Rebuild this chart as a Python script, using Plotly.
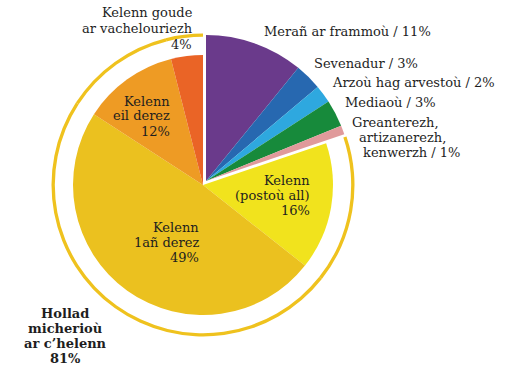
import plotly.graph_objects as go

W, H = 515, 383

# ---- data ----
categories = [
    "Merañ ar frammoù", "Sevenadur", "Arzoù hag arvestoù", "Mediaoù",
    "Greanterezh, artizanerezh, kenwerzh",
    "Kelenn (postoù all)", "Kelenn 1añ derez", "Kelenn eil derez",
    "Kelenn goude ar vachelouriezh",
]
values = [11, 3, 2, 3, 1, 16, 49, 12, 4]
is_teaching = [False, False, False, False, False, True, True, True, True]
colors = ["#6a3a8b", "#2768b0", "#2ea8df", "#178a3b", "#e09a9b",
          "#f1e31d", "#ebc11f", "#ee9b24", "#ea6426"]
ring_color = "#efc21e"
total_label = ["Hollad", "micherioù", "ar c’helenn", "81%"]

TRANSP = "rgba(0,0,0,0)"

def dom(cx, cy, r):
    return dict(x=[(cx - r) / W, (cx + r) / W],
                y=[(H - cy - r) / H, (H - cy + r) / H])

fig = go.Figure()

# non-teaching group (slightly pulled out)
fig.add_trace(go.Pie(
    labels=categories, values=values, sort=False, direction="clockwise", rotation=0,
    marker=dict(colors=[TRANSP if t else c for c, t in zip(colors, is_teaching)],
                line=dict(width=0)),
    textinfo="none", hoverinfo="label+value", domain=dom(206, 181, 146),
))
# teaching group
fig.add_trace(go.Pie(
    labels=categories, values=values, sort=False, direction="clockwise", rotation=0,
    marker=dict(colors=[c if t else TRANSP for c, t in zip(colors, is_teaching)],
                line=dict(width=0)),
    textinfo="none", hoverinfo="label+value", domain=dom(203, 185, 130),
))
# ring around teaching group
fig.add_trace(go.Pie(
    labels=categories, values=values, sort=False, direction="clockwise", rotation=0,
    marker=dict(colors=[ring_color if t else TRANSP for t in is_teaching],
                line=dict(width=0)),
    hole=0.978, textinfo="none", hoverinfo="skip", domain=dom(203, 185, 151.5),
))

FONT = "DejaVu Serif"
TXT = "#1e1e1e"

def line(text, x, y, anchor, bold=False, size=13):
    fig.add_annotation(
        text=f"<b>{text}</b>" if bold else text,
        x=x / W, y=1 - y / H, xref="paper", yref="paper",
        xanchor=anchor, yanchor="middle", showarrow=False,
        font=dict(family=FONT, size=size, color=TXT),
    )

pct = [f"{v}%" for v in values]

# outside labels
line(f"{categories[0]} / {pct[0]}", 262, 32, "left")
line(f"{categories[1]} / {pct[1]}", 312, 63, "left")
line(f"{categories[2]} / {pct[2]}", 330, 83, "left")
line(f"{categories[3]} / {pct[3]}", 343, 102, "left")
line("Greanterezh,", 350, 122, "left")
line("artizanerezh,", 357, 137, "left")
line(f"kenwerzh / {pct[4]}", 361, 152, "left")

line("Kelenn goude", 195, 12, "right")
line("ar vachelouriezh", 195, 28, "right")
line(pct[8], 194, 44, "right")

# inside labels
line("Kelenn", 172, 101, "right")
line("eil derez", 172, 116, "right")
line(pct[7], 172, 132, "right")

line("Kelenn", 312, 180, "right")
line("(postoù all)", 312, 195, "right")
line(pct[5], 312, 210, "right")

line("Kelenn", 201, 227, "right")
line("1añ derez", 201, 242, "right")
line(pct[6], 201, 257, "right")

# total
for i, t in enumerate(total_label):
    line(t, 65, 313 + 15 * i, "center", bold=True)

fig.update_layout(
    width=W, height=H, margin=dict(l=0, r=0, t=0, b=0),
    paper_bgcolor="white", plot_bgcolor="white", showlegend=False,
)

fig.write_html("out.html", config={"displayModeBar": False},
               post_script="document.body.style.margin='0';document.body.style.overflow='hidden';")
